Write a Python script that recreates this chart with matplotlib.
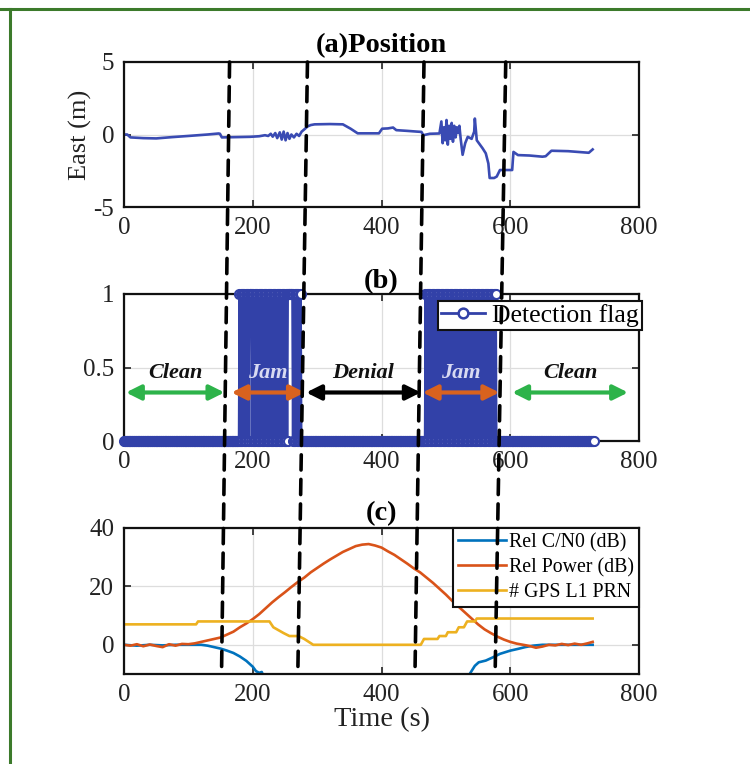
import numpy as np
import matplotlib
matplotlib.use("Agg")
import matplotlib.pyplot as plt
from matplotlib.patches import ConnectionPatch
from matplotlib.lines import Line2D

plt.rcParams['font.family'] = ['Liberation Serif', 'DejaVu Serif']
plt.rcParams['axes.unicode_minus'] = False

# ---------------- data ----------------
# (a) East position (m)
east_t = [0, 5, 10, 30, 50, 75, 100, 130, 147, 149, 152, 175, 196, 210, 219, 224, 228, 231,
          235, 238, 242, 245, 248, 251, 254, 257, 260, 264, 268, 272, 276, 280, 285, 290, 296,
          320, 340, 346, 352, 363, 380, 396, 401, 410, 418, 423, 440, 455, 462, 465, 475, 490,
          493, 495, 497, 499, 501, 503, 505, 507, 509, 511, 513, 515, 517, 519, 521, 523, 526,
          530, 534, 540, 544, 545, 548, 557, 562, 566, 568, 575, 579, 584, 603, 604, 605, 612,
          630, 650, 655, 664, 690, 722, 728]
east_v = [0.0, 0.0, -0.2, -0.25, -0.27, -0.18, -0.1, 0.0, 0.07, 0.05, -0.2, -0.18, -0.16, -0.12,
          -0.05, -0.1, 0.05, -0.15, 0.1, -0.25, 0.15, -0.35, 0.2, -0.4, 0.1, -0.3, 0.0, -0.2, 0.05,
          -0.1, 0.2, 0.35, 0.55, 0.65, 0.7, 0.72, 0.7, 0.55, 0.4, 0.08, 0.08, 0.08, 0.4, 0.42, 0.48,
          0.3, 0.25, 0.2, 0.18, -0.05, 0.05, 0.07, 0.9, -0.6, 0.5, -0.4, 1.0, -0.7, 0.6, -0.3, 0.8,
          -0.5, 0.6, -0.2, 0.5, 0.1, 0.6, -0.3, -1.4, -0.6, -0.16, -0.3, 0.2, 1.1, -0.4, -0.95,
          -1.3, -2.0, -3.0, -3.0, -2.9, -2.45, -2.45, -1.8, -1.2, -1.42, -1.45, -1.53, -1.5, -1.12,
          -1.15, -1.26, -1.03]

# (b) detection flag: periods where the detector toggles, and short holds at 1
flag_end_time = 730
jam_periods = [(179, 276), (468, 579)]
hold_periods = [(195, 197), (256, 260)]

# (b) phase annotations
phase_labels = ['Clean', 'Jam', 'Denial', 'Jam', 'Clean']
phase_start = [3, 167, 283, 464, 603]
phase_end = [156, 281, 461, 583, 783]
phase_colors = ['#2DB34A', '#D9621E', '#000000', '#D9621E', '#2DB34A']
phase_text_colors = ['#111111', '#D8DAF2', '#111111', '#D8DAF2', '#111111']

# (c) relative C/N0, relative power, number of GPS L1 PRNs
power_t = [0, 10, 20, 30, 40, 50, 60, 70, 80, 90, 100, 110, 120, 130, 140, 150, 160, 170, 180,
           190, 200, 210, 220, 230, 240, 250, 260, 270, 280, 290, 300, 310, 320, 330, 340, 350,
           360, 370, 380, 390, 400, 410, 420, 430, 440, 450, 460, 470, 480, 490, 500, 510, 520,
           530, 540, 550, 560, 570, 580, 590, 600, 610, 620, 630, 640, 650, 660, 670, 680, 690,
           700, 710, 720, 728]
power_v = [0.0, -0.3, 0.2, -0.5, 0.1, -0.4, -0.8, 0.2, -0.3, 0.3, 0.2, 0.5, 1.0, 1.5, 2.0, 2.5,
           3.5, 4.5, 6.0, 7.3, 8.8, 10.5, 12.5, 14.5, 16.3, 18.0, 19.8, 21.5, 23.0, 24.8, 26.3,
           27.8, 29.2, 30.5, 31.8, 32.8, 33.8, 34.3, 34.5, 34.0, 33.3, 32.0, 30.8, 29.3, 27.8,
           26.2, 24.8, 23.0, 21.2, 19.2, 17.2, 15.0, 13.0, 11.0, 9.0, 7.0, 5.3, 4.0, 2.8, 1.8, 1.0,
           0.4, 0.0, -0.4, -1.0, -0.6, 0.0, -0.2, 0.3, -0.1, 0.4, 0.0, 0.5, 1.0]
cn0_t = [0, 20, 40, 60, 80, 100, 120, 130, 140, 150, 160, 170, 180, 190, 200, 205, 210, 214, 217,
         218, 535, 537, 545, 551, 562, 573, 584, 600, 612, 623, 635, 650, 690, 728]
cn0_v = [0.0, -0.3, 0.0, -0.2, 0.0, 0.0, 0.0, -0.3, -0.8, -1.3, -2.0, -2.8, -4.0, -5.5, -7.5,
         -9.0, -9.6, -9.3, -11.0, np.nan, -11.0, -10.0, -7.2, -6.0, -5.4, -4.3, -3.1, -2.0, -1.4,
         -0.8, -0.3, 0.0, 0.0, 0.0]
prn_t = [0, 112, 115, 226, 232, 240, 248, 257, 271, 280, 294, 461, 466, 487, 490, 500, 503, 516,
         520, 528, 533, 545, 548, 728]
prn_v = [7, 7, 8, 8, 6, 5, 4, 3, 3, 2, 0, 0, 2, 2, 3, 3, 4.3, 4.3, 6, 6, 8, 8, 9, 9]

# event boundaries (dashed lines) at top of panel (a) and bottom of panel (c)
event_top = [164, 285, 466, 593]
event_bottom = [151.5, 270, 452, 576.5]

# ---------------- build flag series ----------------
flag_t = np.arange(0, flag_end_time + 1)
flag_v = np.zeros_like(flag_t, dtype=float)
for a, b in jam_periods:
    m = (flag_t >= a) & (flag_t <= b)
    flag_v[m] = (flag_t[m] - a + 1) % 2
for a, b in hold_periods:
    m = (flag_t >= a) & (flag_t <= b)
    flag_v[m] = 1

# ---------------- figure ----------------
W, H = 750, 764
fig = plt.figure(figsize=(W / 100, H / 100), dpi=100)

def px_axes(left, top, right, bottom):
    return fig.add_axes([left / W, 1 - bottom / H, (right - left) / W, (bottom - top) / H])

ax_a = px_axes(124, 62, 639, 207)
ax_b = px_axes(124, 294, 639, 441)
ax_c = px_axes(124, 528, 639, 674)

tick_fs = 18
title_fs = 20.5
for ax in (ax_a, ax_b, ax_c):
    ax.set_xlim(0, 800)
    ax.set_xticks([0, 200, 400, 600, 800])
    ax.grid(True, color='#DDDDDD', lw=0.9)
    ax.set_axisbelow(True)
    ax.tick_params(direction='in', top=True, right=True, length=5, width=1.2,
                   labelsize=tick_fs, colors='#222222', pad=7)
    for s in ax.spines.values():
        s.set_linewidth(1.6)
        s.set_color('#111111')

blue_a = '#3A4BB3'
ax_a.plot(east_t, east_v, color=blue_a, lw=1.9)
ax_a.set_ylim(-5, 5)
ax_a.set_yticks([-5, 0, 5])
ax_a.set_ylabel('East (m)', fontsize=19, color='#222222', labelpad=1)
ax_a.set_title('(a)Position', fontsize=title_fs, fontweight='bold', pad=7)

flag_color = '#3241A8'
ax_b.plot(flag_t, flag_v, color=flag_color, lw=1.2, marker='o', ms=6.5, mfc='white',
          mec=flag_color, mew=1.5, clip_on=False, label='Detection flag', zorder=3)
ax_b.set_ylim(0, 1)
ax_b.set_yticks([0, 0.5, 1])
ax_b.set_yticklabels(['0', '0.5', '1'])
ax_b.set_title('(b)', fontsize=title_fs, fontweight='bold', pad=4)
for lab, x0, x1, col, tcol in zip(phase_labels, phase_start, phase_end, phase_colors,
                                  phase_text_colors):
    ax_b.annotate('', xy=(x1, 0.33), xytext=(x0, 0.33),
                  arrowprops=dict(arrowstyle='<|-|>', color=col, lw=3.0,
                                  mutation_scale=22, shrinkA=0, shrinkB=0),
                  zorder=5, annotation_clip=False)
    ax_b.text((x0 + x1) / 2, 0.46, lab, ha='center', va='center', fontsize=16,
              fontweight='bold', fontstyle='italic', color=tcol, zorder=6)
h_flag = Line2D([], [], color=flag_color, lw=2, marker='o', ms=7, mfc='white',
                mec=flag_color, mew=1.8)
leg_b = ax_b.legend([h_flag], ['Detection flag'], loc='upper right',
                    bbox_to_anchor=(1.006, 0.955), fontsize=18.5, frameon=True,
                    fancybox=False, framealpha=1, edgecolor='#111111', borderpad=0.12,
                    handlelength=1.7, handletextpad=0.3, borderaxespad=0)
leg_b.get_frame().set_linewidth(1.5)

c1, c2, c3 = '#0072BD', '#D95319', '#EDB120'
ax_c.plot(cn0_t, cn0_v, color=c1, lw=1.9, label='Rel C/N0 (dB)')
ax_c.plot(power_t, power_v, color=c2, lw=1.9, label='Rel Power (dB)')
ax_c.plot(prn_t, prn_v, color=c3, lw=1.9, label='# GPS L1 PRN')
ax_c.set_ylim(-10, 40)
ax_c.set_yticks([0, 20, 40])
ax_c.set_title('(c)', fontsize=title_fs, fontweight='bold', pad=6)
ax_c.set_xlabel('Time (s)', fontsize=20.5, color='#222222', labelpad=1)
leg_c = ax_c.legend(loc='upper right', bbox_to_anchor=(1.0, 1.0), fontsize=14.3,
                    frameon=True, fancybox=False, framealpha=1, edgecolor='#111111',
                    borderpad=0.25, handlelength=2.4, handletextpad=0.15,
                    labelspacing=0.28, borderaxespad=0)
leg_c.get_frame().set_linewidth(1.5)

# dashed event lines spanning the three panels
for xt, xb in zip(event_top, event_bottom):
    con = ConnectionPatch(xyA=(xt, 5), coordsA='data', axesA=ax_a,
                          xyB=(xb, -10), coordsB='data', axesB=ax_c,
                          color='black', lw=2.6, linestyle=(0, (4.2, 2.6)), zorder=10)
    fig.add_artist(con)

# green frame lines (top and left)
fig.add_artist(Line2D([0, 1], [1 - 9 / H, 1 - 9 / H], transform=fig.transFigure,
                      color='#3C7A2B', lw=2.2))
fig.add_artist(Line2D([10 / W, 10 / W], [0, 1 - 9 / H], transform=fig.transFigure,
                      color='#3C7A2B', lw=2.2))

fig.savefig('out.png', dpi=100)
